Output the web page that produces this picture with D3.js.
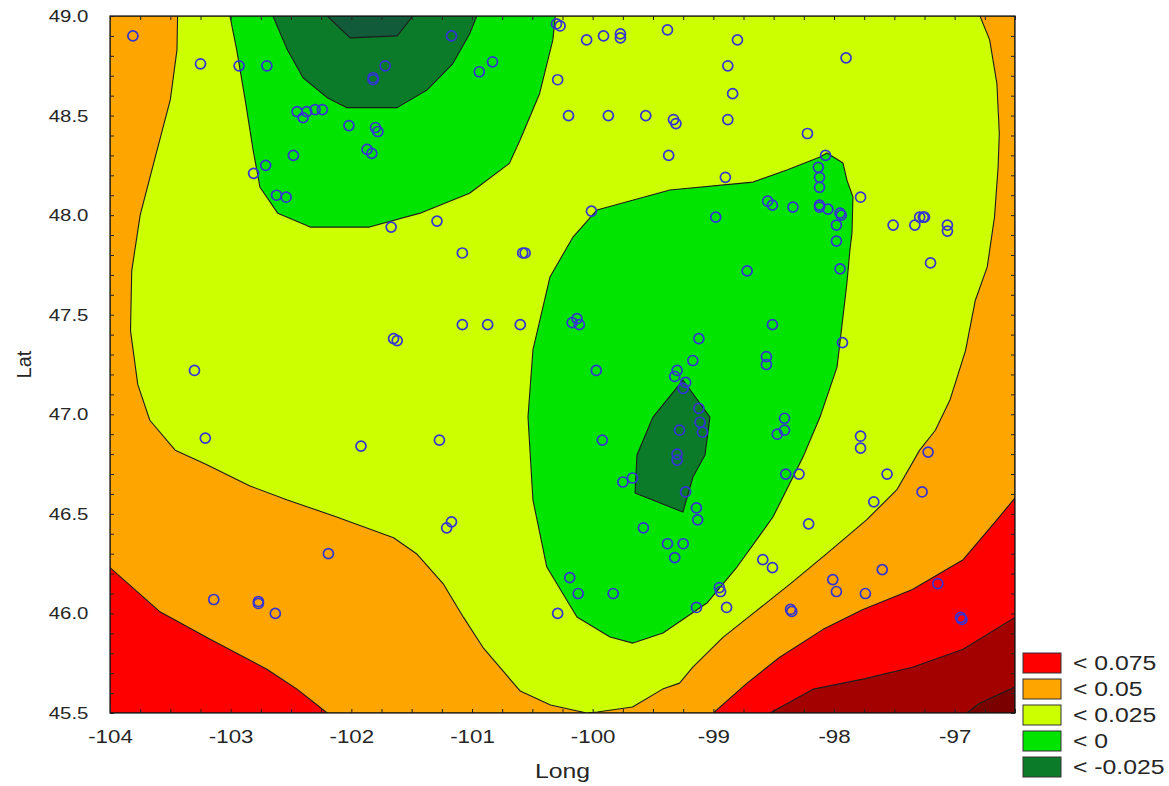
<!DOCTYPE html>
<html><head><meta charset="utf-8">
<script src="https://cdn.jsdelivr.net/npm/d3@7"></script>
<style>
body{margin:0;background:#fff;}
text{font-family:"Liberation Sans",Arial,sans-serif;fill:#262626;}
</style>
</head><body>
<svg id="chart" width="1169" height="786"></svg>
<script>
// ---------- axis ticks ----------
const lonTicks = [-104,-103,-102,-101,-100,-99,-98,-97];
const latTicks = [45.5,46,46.5,47,47.5,48,48.5,49];
const lonDomain = [-104,-96.5];
const latDomain = [45.5,49];

// ---------- legend ----------
const legendLabels = ["< 0.075","< 0.05","< 0.025","< 0","< -0.025"];
const legendColors = ["#ff0000","#ffa500","#ccff00","#00e400","#0b7b2a"];

// ---------- contour bands (lon, lat outlines) ----------
const bandOrangeBackground = [[-104,45.5],[-104,49],[-96.5,49],[-96.5,45.5]];
const bandYellow = [[-103.44,49.0],[-103.445,48.83],[-103.50,48.58],[-103.63,48.28],[-103.75,48.00],[-103.82,47.72],[-103.83,47.42],[-103.77,47.15],[-103.67,46.97],[-103.46,46.82],[-103.21,46.75],[-102.84,46.64],[-102.53,46.57],[-102.15,46.49],[-101.65,46.38],[-101.46,46.30],[-101.24,46.15],[-101.07,45.98],[-100.91,45.83],[-100.77,45.73],[-100.60,45.61],[-100.35,45.54],[-100.05,45.50],[-99.96,45.505],[-99.67,45.53],[-99.42,45.62],[-99.28,45.65],[-99.17,45.73],[-98.92,45.88],[-98.67,46.00],[-98.36,46.15],[-98.06,46.30],[-97.73,46.47],[-97.48,46.62],[-97.29,46.82],[-97.16,46.92],[-97.04,47.07],[-96.91,47.32],[-96.83,47.57],[-96.73,47.74],[-96.67,47.99],[-96.64,48.24],[-96.63,48.41],[-96.65,48.66],[-96.71,48.88],[-96.79,49.0]];
const bandGreenNorth = [[-103.006,49.0],[-102.95,48.83],[-102.88,48.58],[-102.815,48.33],[-102.757,48.14],[-102.61,48.01],[-102.34,47.94],[-102.04,47.94],[-101.85,47.94],[-101.43,48.01],[-101.02,48.11],[-100.69,48.26],[-100.60,48.38],[-100.44,48.61],[-100.33,48.88],[-100.31,49.0]];
const bandGreenCentral = [[-99.964,48.026],[-99.36,48.126],[-98.67,48.166],[-98.39,48.227],[-98.116,48.292],[-98.058,48.312],[-97.926,48.262],[-97.893,48.176],[-97.843,48.091],[-97.851,47.910],[-97.868,47.825],[-97.893,47.659],[-97.926,47.488],[-97.975,47.237],[-98.116,46.986],[-98.257,46.785],[-98.506,46.484],[-98.804,46.233],[-99.053,46.052],[-99.417,45.902],[-99.666,45.851],[-99.856,45.882],[-100.13,45.982],[-100.38,46.233],[-100.495,46.570],[-100.536,46.986],[-100.495,47.323],[-100.354,47.689],[-100.163,47.890]];
const bandDarkGreenNorth = [[-102.65,49.0],[-102.53,48.83],[-102.40,48.69],[-102.20,48.59],[-102.04,48.54],[-101.62,48.54],[-101.37,48.63],[-101.16,48.76],[-101.02,48.91],[-100.96,49.0]];
const bandDarkGreenCentral = [[-99.252,47.172],[-99.028,46.986],[-99.069,46.796],[-99.169,46.685],[-99.252,46.509],[-99.649,46.605],[-99.633,46.796],[-99.50,46.986]];
const bandDeepGreen = [[-102.20,49.0],[-102.01,48.89],[-101.62,48.90],[-101.49,49.0]];
const bandRedWest = [[-104,46.23],[-103.59,46.01],[-103.17,45.87],[-102.70,45.72],[-102.45,45.62],[-102.20,45.5],[-104,45.5]];
const bandRedEast = [[-99.00,45.5],[-98.72,45.65],[-98.45,45.78],[-98.09,45.92],[-97.76,46.02],[-97.35,46.12],[-96.93,46.27],[-96.65,46.47],[-96.5,46.58],[-96.5,45.5]];
const bandDarkRed = [[-98.53,45.5],[-98.17,45.62],[-97.76,45.67],[-97.35,45.73],[-96.93,45.82],[-96.5,45.98],[-96.5,45.5]];
const bandDeepRed = [[-96.90,45.5],[-96.79,45.55],[-96.5,45.63],[-96.5,45.5]];

const bandColors = {
  orange:"#ffa500", yellow:"#ccff00", green:"#00e400", darkGreen:"#0b7b2a",
  deepGreen:"#115a3a", red:"#ff0000", darkRed:"#a30000", deepRed:"#7a0000"
};

// ---------- sample sites ----------
const siteLon = [-103.81,-103.25,-102.93,-102.70,-102.81,-102.71,-102.62,-102.54,-102.48,-102.45,-102.37,-102.30,-102.24,-102.40,-102.02,-101.80,-101.78,-101.87,-101.83,-101.72,-101.82,-101.82,-101.17,-100.94,-100.83,-101.29,-101.67,-100.30,-100.27,-100.29,-100.20,-100.05,-99.91,-99.77,-99.77,-99.38,-98.80,-98.88,-98.84,-99.87,-99.56,-99.33,-99.31,-98.88,-99.37,-98.22,-97.90,-98.90,-100.01,-98.98,-98.55,-98.51,-98.34,-98.13,-98.12,-98.12,-98.07,-98.12,-98.12,-98.05,-97.95,-97.94,-97.78,-97.98,-97.98,-97.95,-98.72,-100.58,-100.56,-101.08,-100.60,-100.17,-100.13,-100.11,-98.51,-99.12,-97.93,-99.17,-98.56,-98.56,-99.97,-99.30,-99.32,-99.23,-99.25,-99.12,-99.11,-99.09,-99.28,-98.41,-98.41,-98.47,-99.92,-99.30,-99.30,-97.78,-97.78,-99.75,-99.67,-99.23,-98.40,-98.29,-97.67,-99.14,-99.13,-98.21,-99.58,-99.38,-99.25,-99.32,-98.59,-98.51,-100.19,-100.12,-99.83,-100.29,-98.95,-98.94,-98.89,-99.14,-98.01,-97.98,-97.74,-97.60,-98.36,-98.35,-97.22,-97.56,-97.27,-97.14,-96.95,-96.94,-101.21,-101.17,-102.19,-103.14,-102.77,-102.77,-102.63,-103.30,-103.21,-101.92,-101.27,-101.08,-100.87,-101.65,-101.62,-97.29,-97.26,-97.25,-97.33,-97.06,-97.06,-97.20,-97.51];
const siteLat = [48.90,48.76,48.75,48.75,48.21,48.25,48.10,48.09,48.30,48.52,48.52,48.53,48.53,48.49,48.45,48.44,48.42,48.33,48.31,48.75,48.69,48.68,48.90,48.72,48.77,47.97,47.94,48.96,48.95,48.68,48.50,48.88,48.90,48.91,48.89,48.93,48.88,48.75,48.61,48.50,48.50,48.48,48.46,48.48,48.30,48.41,48.79,48.19,48.02,47.99,48.07,48.05,48.04,48.24,48.19,48.14,48.30,48.05,48.04,48.03,48.01,48.00,48.09,47.95,47.87,47.73,47.72,47.81,47.81,47.81,47.45,47.46,47.48,47.45,47.45,47.38,47.36,47.27,47.29,47.25,47.22,47.22,47.19,47.16,47.13,47.03,46.96,46.91,46.92,46.98,46.92,46.90,46.87,46.80,46.77,46.89,46.83,46.66,46.68,46.61,46.70,46.70,46.56,46.53,46.47,46.45,46.43,46.35,46.35,46.28,46.27,46.23,46.18,46.10,46.10,46.00,46.13,46.11,46.03,46.03,46.17,46.11,46.10,46.22,46.02,46.01,46.81,46.70,46.61,46.15,45.98,45.97,46.43,46.46,46.30,46.07,46.06,46.05,46.00,47.22,46.88,46.84,46.87,47.45,47.45,47.38,47.37,47.99,47.99,47.99,47.95,47.95,47.92,47.76,47.95];

// ---------- drawing ----------
const svg = d3.select("#chart");
const x = d3.scaleLinear().domain(lonDomain).range([110,1015]);
const y = d3.scaleLinear().domain(latDomain).range([713,16]);
const TX = 1.24; // horizontal text stretch of the source figure

svg.append("defs").append("clipPath").attr("id","plotClip")
  .append("rect").attr("x",x(lonDomain[0])).attr("y",y(latDomain[1]))
  .attr("width",x(lonDomain[1])-x(lonDomain[0])).attr("height",y(latDomain[0])-y(latDomain[1]));

const plot = svg.append("g").attr("clip-path","url(#plotClip)");
const outline = d3.line().x(d=>x(d[0])).y(d=>y(d[1])).curve(d3.curveLinearClosed);

const layers = [
  [bandOrangeBackground, bandColors.orange],
  [bandYellow, bandColors.yellow],
  [bandGreenNorth, bandColors.green],
  [bandGreenCentral, bandColors.green],
  [bandDarkGreenNorth, bandColors.darkGreen],
  [bandDarkGreenCentral, bandColors.darkGreen],
  [bandDeepGreen, bandColors.deepGreen],
  [bandRedWest, bandColors.red],
  [bandRedEast, bandColors.red],
  [bandDarkRed, bandColors.darkRed],
  [bandDeepRed, bandColors.deepRed]
];
plot.selectAll("path.band").data(layers).join("path").attr("class","band")
  .attr("d",d=>outline(d[0])).attr("fill",d=>d[1])
  .attr("stroke","#1c1c1c").attr("stroke-width",1.1).attr("stroke-linejoin","round");

plot.selectAll("circle.site").data(siteLon.map((lo,i)=>[lo,siteLat[i]])).join("circle")
  .attr("class","site").attr("cx",d=>x(d[0])).attr("cy",d=>y(d[1])).attr("r",5)
  .attr("fill","none").attr("stroke","#3434d4").attr("stroke-width",1.7);

// frame
svg.append("rect").attr("x",x(lonDomain[0])).attr("y",y(latDomain[1]))
  .attr("width",x(lonDomain[1])-x(lonDomain[0])).attr("height",y(latDomain[0])-y(latDomain[1]))
  .attr("fill","none").attr("stroke","#111").attr("stroke-width",1.2);

// minor ticks
const lonMinor = d3.range(0,31).map(i=>lonDomain[0]+i*0.25);
const latMinor = d3.range(0,36).map(i=>latDomain[0]+i*0.1);
function tickStyle(g){ g.select(".domain").remove(); g.selectAll("line").attr("stroke","#222"); g.selectAll("text").remove(); }
svg.append("g").attr("transform",`translate(0,${y(latDomain[0])})`).call(d3.axisBottom(x).tickValues(lonMinor).tickSize(-4)).call(tickStyle);
svg.append("g").attr("transform",`translate(0,${y(latDomain[1])})`).call(d3.axisTop(x).tickValues(lonMinor).tickSize(-4)).call(tickStyle);
svg.append("g").attr("transform",`translate(${x(lonDomain[0])},0)`).call(d3.axisLeft(y).tickValues(latMinor).tickSize(-4)).call(tickStyle);
svg.append("g").attr("transform",`translate(${x(lonDomain[1])},0)`).call(d3.axisRight(y).tickValues(latMinor).tickSize(-4)).call(tickStyle);

// labelled axes (hyphen-minus as in the source)
const xAxis = svg.append("g").attr("transform",`translate(0,${y(latDomain[0])})`)
  .call(d3.axisBottom(x).tickValues(lonTicks).tickSize(0).tickPadding(17).tickFormat(d=>String(d)));
xAxis.select(".domain").remove();
xAxis.selectAll("text").attr("font-size",18).attr("fill","#262626")
  .attr("font-family","'Liberation Sans',Arial,sans-serif").attr("transform",`scale(${TX},1)`);

const yAxis = svg.append("g").attr("transform",`translate(${x(lonDomain[0])},0)`)
  .call(d3.axisLeft(y).tickValues(latTicks).tickSize(0).tickPadding(18).tickFormat(d=>d.toFixed(1)));
yAxis.select(".domain").remove();
yAxis.selectAll("text").attr("font-size",17).attr("fill","#262626")
  .attr("font-family","'Liberation Sans',Arial,sans-serif").attr("transform","scale(1.2,1)");

// axis titles
svg.append("text").attr("transform",`translate(${(x(lonDomain[0])+x(lonDomain[1]))/2},778) scale(${TX},1)`)
  .attr("text-anchor","middle").attr("font-size",20).text("Long");
svg.append("text").attr("transform",`translate(31,${(y(latDomain[0])+y(latDomain[1]))/2}) rotate(-90)`)
  .attr("text-anchor","middle").attr("font-size",20).text("Lat");

// legend
const leg = svg.append("g").attr("transform","translate(1023,653)");
const items = leg.selectAll("g").data(legendLabels).join("g").attr("transform",(d,i)=>`translate(0,${i*26})`);
items.append("rect").attr("width",38).attr("height",20).attr("fill",(d,i)=>legendColors[i])
  .attr("stroke","#333").attr("stroke-width",1);
items.append("text").attr("transform",`translate(50,17) scale(1.18,1)`).attr("font-size",21).text(d=>d);
</script>
</body></html>
